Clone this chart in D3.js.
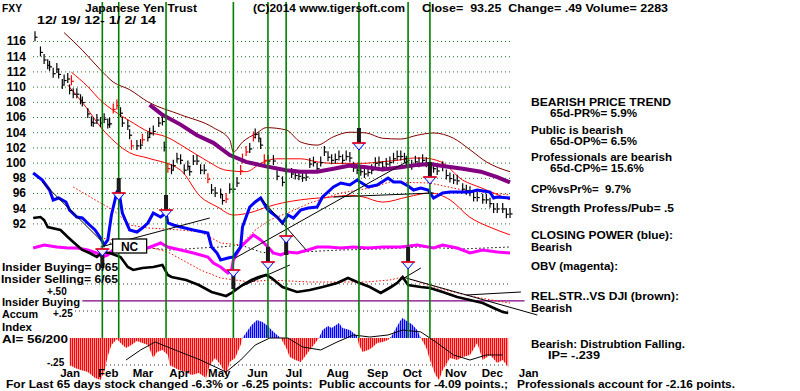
<!DOCTYPE html>
<html><head><meta charset="utf-8">
<script src="https://cdn.jsdelivr.net/npm/d3@7"></script>
<style>
html,body{margin:0;padding:0;background:#fff;}
svg{display:block;font-family:"Liberation Sans",Arial,sans-serif;font-weight:bold;}
</style></head><body><svg id="c" width="800" height="391"></svg>
<script>
// ---------- DATA (day index = trading days since 12/19/12) ----------
const priceTicks = [116,114,112,110,108,106,104,102,100,98,96,94,92];
const monthLabels = ["Jan","Feb","Mar","Apr","May","Jun","Jul","Aug","Sep","Oct","Nov","Dec","Jan"];
const monthDays = [19,40,59,79,101,122,142,166,188,207,231,251,271];
const signalDays = [37,46,72,109,128,138,178,205,217];
const aiTicks = [0.5,0.25,-0.25];
const aiTickLabels = ["+.50","+.25","-.25"];

const closes = [[0,116.5],[3,114.5],[5,113.5],[7,112.8],[8,112.6],[10,111.7],[12,112.3],[13,111.6],[15,110.2],[16,110.8],[18,111],[19,109.5],[20,110.7],[21,109],[23,109],[25,108.2],[26,107.9],[29,106.4],[31,105.3],[32,105.2],[34,105.6],[36,105.2],[38,105.7],[40,105],[41,105.1],[43,107],[45,107.5],[47,106.5],[48,105.2],[51,104.8],[52,103.6],[53,102.2],[56,102.2],[58,102.3],[59,103],[62,103.3],[63,103.8],[65,104.1],[68,105.2],[70,105.4],[71,102],[73,99.2],[75,99],[76,99.6],[78,100.5],[80,100.3],[82,99],[84,99.5],[85,98.8],[87,100.2],[89,100.2],[91,99],[93,99],[95,97.8],[97,96.4],[99,96],[102,95.8],[103,95],[105,95.2],[107,96.5],[109,96.5],[111,97.3],[113,98.9],[114,100.4],[116,101.4],[118,101.8],[120,103.3],[121,103.7],[123,103.2],[124,102.3],[126,100.3],[128,100.2],[131,100.2],[133,98.2],[136,97.4],[138,99],[141,98.5],[143,98.3],[145,98.2],[147,98],[149,98.1],[151,99.8],[153,100],[155,99.2],[157,100],[159,101.4],[161,100.7],[163,100.3],[165,100.4],[167,100.8],[169,100.3],[171,100.8],[173,100.6],[175,99.3],[177,99],[179,98.8],[181,98.5],[183,98.7],[185,99],[187,99.9],[189,100],[191,99.4],[193,99.8],[195,100],[197,100.5],[199,100.8],[201,100.8],[203,100.5],[204,100.1],[207,99.6],[209,100.1],[211,99.9],[213,100.3],[215,99.9],[217,99.3],[219,99.2],[221,98.9],[224,99.4],[226,98.3],[228,97.9],[230,97.7],[232,97.6],[235,96.5],[237,96.3],[239,96.1],[241,95.4],[243,95.4],[246,95.1],[248,95.1],[250,94.6],[252,93.9],[254,93.9],[257,93.9],[259,93.2],[261,93.25]];
const redBarDays = [20,43,45,53,59,73,95,105,113,114,116,120,126];

const ma65 = [[63,107.6],[70,106.3],[80,105],[89,103.6],[98,102.6],[107,101],[116,100.1],[127,99.5],[138,99],[146,98.8],[155,98.8],[164,99.2],[173,99.6],[182,99.4],[191,99.1],[201,99.4],[210,99.7],[217,99.8],[226,99.5],[235,99.2],[245,98.8],[254,98.1],[261,97.4]];
const outerBand = [[16,117.1],[26,114.8],[36,112.2],[43,110.6],[52,109.6],[62,108],[80,106.3],[98,104.6],[107,103],[109,101.4],[114,102.7],[122,103.9],[127,104.6],[138,104.3],[146,102.7],[155,102.3],[164,103.4],[173,104],[182,103.9],[191,103.2],[201,103.1],[210,103.6],[219,103.9],[230,103.2],[239,101.7],[248,100.1],[261,98.8]];
const upperBand = [[20,111.9],[29,110],[36,108.2],[44,106.7],[52,105.5],[63,104],[72,103.4],[83,101.9],[94,100.3],[105,99],[116,98.8],[124,99.9],[133,100.5],[146,100.5],[155,100.1],[164,99.9],[180,99.9],[190,100.1],[199,100.3],[208,100.6],[213,100.6],[223,100.1],[235,97.7],[245,96.7],[261,95.1]];
const lowerBand = [[18,110.2],[28,107.3],[36,104.7],[44,102.7],[52,101.3],[62,100.6],[80,99],[91,95.5],[100,94.2],[109,93.1],[118,93.4],[128,94.2],[136,94.7],[146,95.1],[164,95.5],[173,95.7],[180,95.5],[191,94.8],[205,95.5],[217,96],[228,95.1],[239,92.8],[250,91.5],[261,90.5]];

const closingPower = [[-1,63.5],[4,60],[8,55],[10,50],[13,51],[17,49],[19,45],[23,41.5],[26,41],[30,37.5],[33,35],[36,31],[38,27.5],[40,30],[42,42.5],[45,54],[46,55],[48,43.5],[52,35],[56,34],[59,36],[62,38.5],[65,43.5],[69,41.5],[72,43.5],[73,38.5],[76,37.5],[80,36.5],[87,35],[95,33.5],[97,26.5],[100,23.5],[102,20],[106,21],[109,21.5],[113,26.5],[114,36.5],[118,46.5],[121,49],[124,51],[128,45],[133,41.5],[136,38.5],[139,42.5],[142,41],[146,45],[150,46],[155,46.5],[158,51.5],[164,56.5],[168,58.5],[173,57.5],[177,60],[183,56.5],[188,57.5],[194,61],[197,59],[201,59],[205,57],[208,55],[212,56],[216,55],[219,51],[224,53.5],[228,54],[232,54],[239,54],[243,55],[250,54],[252,51],[254,51.5],[261,51]];
const obv = [[-1,26],[5,27.5],[12,26.5],[18,26],[23,26],[29,25],[34,23.5],[37,21.5],[40,22.5],[44,26],[48,27.5],[55,26.5],[62,26],[69,28.5],[73,26.5],[80,25],[87,23.5],[91,22.5],[95,21.5],[98,18.5],[102,16.5],[106,13.5],[108,15],[109,20],[113,26.5],[117,30],[120,32.5],[124,30],[128,26.5],[131,23.5],[135,22.5],[139,24],[144,23.5],[150,25],[155,26.5],[161,26.5],[168,26],[175,26.5],[183,26],[191,26.5],[201,26.5],[210,27.5],[219,26],[224,27.5],[232,26],[239,23.5],[246,25],[254,24],[261,23.5]];
const relStrength = [[-1,41],[3,41.5],[5,40],[7,36.5],[14,35],[18,31.5],[21,29],[26,25],[30,23.5],[34,21.5],[37,24],[41,23.5],[47,21.5],[51,16.5],[54,15],[59,16],[65,16.5],[70,17.5],[73,12.5],[75,11.5],[83,10],[90,7.5],[97,4],[105,2],[108,3.5],[114,7.5],[119,10],[123,11.5],[127,12.5],[130,11],[136,6.5],[144,4],[151,5],[158,6.5],[166,8.5],[172,11],[177,9],[184,6.5],[190,3.5],[195,6],[199,8.5],[202,11.5],[205,7.5],[212,6.5],[217,6],[224,4],[232,1.5],[239,0],[246,-1.5],[252,-4],[257,-6],[260,-6.5]];
const cpBand = [[21,56.5],[36,48.5],[43,45],[52,37.5],[62,36],[80,35],[91,34],[102,28.5],[113,27.5],[121,35],[129,40],[140,44],[151,48.5],[168,53.5],[184,56],[195,59],[217,58.5],[235,55],[261,52.5]];
const rsBand = [[36,31],[54,28.5],[73,24],[84,18.5],[91,15],[102,11],[118,9],[129,10],[151,9],[168,9],[182,9],[195,10],[202,11.5],[221,6],[239,2],[254,-0.5],[261,-1.5]];
const obvAvg = [[41,28.5],[58,26.5],[74,25],[91,26],[102,26.5],[113,27.5],[124,24],[135,22.5],[146,24],[168,25],[190,25.5],[212,26.5],[234,25.5],[261,26.5]];
const trendLines = [[[4,59],[36,30]],[[36,26.5],[96,41]],[[110,21],[206,70]],[[109,5],[140,17.5]],[[124,51],[149,25]],[[164,51.5],[219,53.5]],[[189,3.5],[212,16]],[[202,11.5],[276,-7.5]],[[237,2.5],[267,4]]];
const buySignals = [[37,25.5],[109,15],[138,32]];
const sellSignals = [[46,53.5],[72,45],[128,19],[178,78.5],[205,19],[217,61.5]];
const ncNote = [52,27];

const accumIndex = [[19,-0.25],[22,-0.278],[25,-0.296],[29,-0.315],[33,-0.37],[36,-0.389],[38,-0.315],[40,-0.167],[42,-0.065],[45,-0.009],[47,-0.046],[50,-0.093],[53,-0.065],[56,-0.028],[59,-0.046],[62,-0.065],[65,-0.185],[67,-0.13],[70,-0.111],[73,-0.157],[74,-0.25],[79,-0.296],[83,-0.315],[86,-0.343],[90,-0.324],[94,-0.37],[96,-0.25],[99,-0.185],[102,-0.25],[105,-0.343],[107,-0.222],[110,-0.185],[113,-0.065],[114,0],[117,0.074],[119,0.12],[122,0.167],[125,0.148],[128,0.111],[130,0.074],[133,0.028],[135,0],[138,-0.093],[140,-0.176],[143,-0.204],[146,-0.222],[149,-0.157],[151,-0.111],[154,-0.046],[156,0],[158,0.074],[161,0.111],[163,0.093],[167,0.139],[169,0.093],[173,0.074],[177,0.019],[178,-0.065],[180,-0.13],[183,-0.111],[185,-0.093],[188,-0.046],[191,-0.037],[194,-0.019],[196,0.019],[199,0.111],[201,0.167],[202,0.185],[205,0.148],[207,0.13],[210,0.074],[212,0],[215,-0.093],[217,-0.204],[220,-0.343],[222,-0.389],[224,-0.296],[228,-0.185],[232,-0.204],[235,-0.176],[239,-0.157],[243,-0.046],[246,-0.204],[250,-0.157],[254,-0.231],[257,-0.204],[260,-0.269]];
const aiAvg = [[50,-0.204],[58,-0.111],[66,-0.037],[77,-0.111],[91,-0.204],[105,-0.315],[113,-0.204],[121,-0.065],[129,0],[139,0],[147,-0.083],[157,-0.111],[166,-0.037],[175,0.028],[184,0.009],[194,0.028],[202,0.074],[212,0.056],[221,-0.046],[230,-0.157],[239,-0.204],[248,-0.157],[257,-0.157]];
const insiderLevel = 0.343;

// ---------- SCALES ----------
const svg = d3.select("#c");
const x = d3.scaleLinear().domain([0,261]).range([35,510]);
const yP = d3.scaleLinear().domain([92,116]).range([223.4,41]);
const yI = d3.scaleLinear().domain([0,100]).range([300,100]);
const yA = d3.scaleLinear().domain([-0.25,0.25]).range([365,311]);

const defs = svg.append("defs");
function stripes(id,color){
  const p = defs.append("pattern").attr("id",id).attr("patternUnits","userSpaceOnUse")
    .attr("width",2).attr("height",8);
  p.append("rect").attr("width",2).attr("height",8).attr("fill","#fff");
  p.append("rect").attr("width",1.4).attr("height",8).attr("fill",color);
}
stripes("redStripe","#ff0000");
stripes("blueStripe","#0000ff");
defs.append("clipPath").attr("id","posClip").append("rect").attr("x",0).attr("y",0).attr("width",800).attr("height",yA(0));
defs.append("clipPath").attr("id","negClip").append("rect").attr("x",0).attr("y",yA(0)).attr("width",800).attr("height",100);

// ---------- GRIDS ----------
const grid = svg.append("g").attr("transform","translate(33,0)")
  .call(d3.axisLeft(yP).tickValues(priceTicks).tickSize(-(510-33)).tickFormat(""));
grid.select(".domain").remove();
grid.selectAll("line").attr("stroke","#2e6b2e").attr("stroke-dasharray","1,3").attr("stroke-width",1);

aiTicks.forEach((v,i)=>{
  svg.append("line").attr("x1",i===2?70:75).attr("x2",510).attr("y1",yA(v)).attr("y2",yA(v))
    .attr("stroke","#333").attr("stroke-dasharray","1,3");
});

// histogram
const area = d3.area().x(d=>x(d[0])).y0(yA(0)).y1(d=>yA(d[1]));
svg.append("path").datum(accumIndex).attr("d",area).attr("fill","url(#redStripe)").attr("clip-path","url(#negClip)");
svg.append("path").datum(accumIndex).attr("d",area).attr("fill","url(#blueStripe)").attr("clip-path","url(#posClip)");
const lineA = d3.line().x(d=>x(d[0])).y(d=>yA(d[1]));
svg.append("path").datum(aiAvg).attr("d",lineA).attr("fill","none").attr("stroke","#000").attr("stroke-width",1);

// insider line
svg.append("line").attr("x1",x(26)).attr("x2",x(269)).attr("y1",yA(insiderLevel)).attr("y2",yA(insiderLevel))
  .attr("stroke","#800080").attr("stroke-width",1.2);

// ---------- PRICE PANEL ----------
const lineP = d3.line().x(d=>x(d[0])).y(d=>yP(d[1]));
const lineI = d3.line().x(d=>x(d[0])).y(d=>yI(d[1]));
svg.append("path").datum(outerBand).attr("d",lineP.curve(d3.curveMonotoneX)).attr("fill","none").attr("stroke","#800000").attr("stroke-width",1);
svg.append("path").datum(upperBand).attr("d",lineP).attr("fill","none").attr("stroke","#ff0000").attr("stroke-width",1);
svg.append("path").datum(lowerBand).attr("d",lineP).attr("fill","none").attr("stroke","#ff0000").attr("stroke-width",1);
lineP.curve(d3.curveLinear);

// indicator bands
svg.append("path").datum(cpBand).attr("d",lineI).attr("fill","none").attr("stroke","#ff0000").attr("stroke-width",1).attr("stroke-dasharray","1.5,2");
svg.append("path").datum(rsBand).attr("d",lineI).attr("fill","none").attr("stroke","#ff0000").attr("stroke-width",1).attr("stroke-dasharray","1.5,2");
svg.append("path").datum(obvAvg).attr("d",lineI).attr("fill","none").attr("stroke","#000").attr("stroke-width",1).attr("stroke-dasharray","1.5,2.5");

// price bars
const bars = svg.append("g");
closes.forEach(([d,v])=>{
  const c = redBarDays.includes(d) ? "#ff0000" : "#000";
  const px = x(d), py = yP(v);
  bars.append("line").attr("x1",px).attr("x2",px).attr("y1",py-6).attr("y2",py+4).attr("stroke",c).attr("stroke-width",1.2);
  bars.append("line").attr("x1",px).attr("x2",px+2.5).attr("y1",py).attr("y2",py).attr("stroke",c).attr("stroke-width",1.2);
});

// 65-day MA
svg.append("path").datum(ma65).attr("d",lineP).attr("fill","none").attr("stroke","#800080").attr("stroke-width",4);

// indicators
svg.append("path").datum(obv).attr("d",lineI).attr("fill","none").attr("stroke","#ff00ff").attr("stroke-width",3);
svg.append("path").datum(relStrength).attr("d",lineI).attr("fill","none").attr("stroke","#000").attr("stroke-width",2.6);
svg.append("path").datum(closingPower).attr("d",lineI).attr("fill","none").attr("stroke","#0000ff").attr("stroke-width",3);

trendLines.forEach(seg=>{
  svg.append("path").datum(seg).attr("d",lineI).attr("fill","none").attr("stroke","#000").attr("stroke-width",1);
});

// green signal lines
signalDays.forEach(d=>{
  svg.append("line").attr("x1",x(d)).attr("x2",x(d)).attr("y1",2).attr("y2",yA(0))
    .attr("stroke","#008000").attr("stroke-width",1.6);
});

// arrows
function marker(d,v,isBuy){
  const px = x(d), py = yI(v);
  if(isBuy){
    svg.append("rect").attr("x",px-2).attr("y",py+5).attr("width",4).attr("height",14).attr("fill","#1a1a1a");
  } else {
    svg.append("rect").attr("x",px-2).attr("y",py-15).attr("width",4).attr("height",15).attr("fill","#1a1a1a");
  }
  svg.append("path").attr("d",`M${px-6},${py}L${px+6},${py}L${px},${py+7}Z`).attr("fill","#e6f0ff").attr("stroke","#0000ff").attr("stroke-width",1);
  svg.append("line").attr("x1",px-7).attr("x2",px+7).attr("y1",py).attr("y2",py).attr("stroke","#ff0000").attr("stroke-width",1.5);
}
buySignals.forEach(s=>marker(s[0],s[1],true));
sellSignals.forEach(s=>marker(s[0],s[1],false));

// NC box
svg.append("rect").attr("x",x(ncNote[0])-17).attr("y",yI(ncNote[1])-7).attr("width",34).attr("height",14)
  .attr("fill","#fff").attr("stroke","#000").attr("stroke-width",1.3);
svg.append("text").attr("x",x(ncNote[0])).attr("y",yI(ncNote[1])+4.5).attr("text-anchor","middle")
  .attr("font-size",12).text("NC");

// ---------- AXES / TEXT ----------
const yAxis = svg.append("g").attr("transform","translate(29,0)")
  .call(d3.axisLeft(yP).tickValues(priceTicks).tickSize(0).tickPadding(3).tickFormat(d3.format("d")));
yAxis.select(".domain").remove();
yAxis.selectAll("text").attr("font-size",12).attr("font-family","'Liberation Sans',Arial,sans-serif").attr("font-weight","bold").attr("fill","#000");

const xAxis = svg.append("g").attr("transform","translate(0,369)")
  .call(d3.axisBottom(x).tickValues(monthDays).tickSize(0).tickPadding(0).tickFormat((d,i)=>monthLabels[i]));
xAxis.select(".domain").remove();
xAxis.selectAll("text").attr("font-size",11.5).attr("font-family","'Liberation Sans',Arial,sans-serif").attr("font-weight","bold").attr("fill","#000");

const aiLabelShift = [7.5, 2, -3];
aiTicks.forEach((v,i)=>{
  svg.append("text").attr("x",i===1?53:47).attr("y",yA(v)+3.5+aiLabelShift[i]).attr("font-size",10).text(aiTickLabels[i]);
});

function txt(x0,yc,s,w,fs){
  svg.append("text").attr("x",x0).attr("y",yc+4).attr("font-size",fs||11)
    .attr("textLength",w).attr("lengthAdjust","spacingAndGlyphs").style("white-space","pre").text(s);
}
txt(2,8,"FXY",20);
txt(85,8,"Japanese Yen Trust",112);
txt(253,8,"(C)2014 www.tigersoft.com",152);
txt(422,8,"Close=  93.25  Change= .49 Volume= 2283",246);
txt(37,20,"12/ 19/ 12- 1/ 2/ 14",119);

txt(531,102,"BEARISH PRICE TREND",140);
txt(550,113,"65d-PR%= 5.9%",87);
txt(531,130,"Public is bearish",92);
txt(550,141,"65d-OP%= 6.5%",87);
txt(531,157,"Professionals are bearish",141);
txt(550,168,"65d-CP%= 15.6%",94);
txt(531,189,"CP%vsPr%=  9.7%",100);
txt(531,208,"Strength Profess/Pub= .5",143);
txt(531,235,"CLOSING POWER (blue):",142);
txt(531,247,"Bearish",41);
txt(531,266,"OBV (magenta):",87);
txt(531,296,"REL.STR..VS DJI (brown):",148);
txt(531,308,"Bearish",41);
txt(531,344,"Bearish: Distrubtion Falling.",154);
txt(548,355,"IP= -.239",52);
txt(517,384,"Professionals account for -2.16 points.",218);

txt(2,267,"Insider Buying= 0/65",116);
txt(1,279,"Insider Selling= 6/65",117);
txt(2,302,"Insider Buying",78);
txt(2,314,"Accum",36);
txt(2,327,"Index",30);
txt(2,339,"AI= 56/200",66);
txt(6,384,"For Last 65 days stock changed -6.3% or -6.25 points:  Public accounts for -4.09 points.;",502);
</script></body></html>
